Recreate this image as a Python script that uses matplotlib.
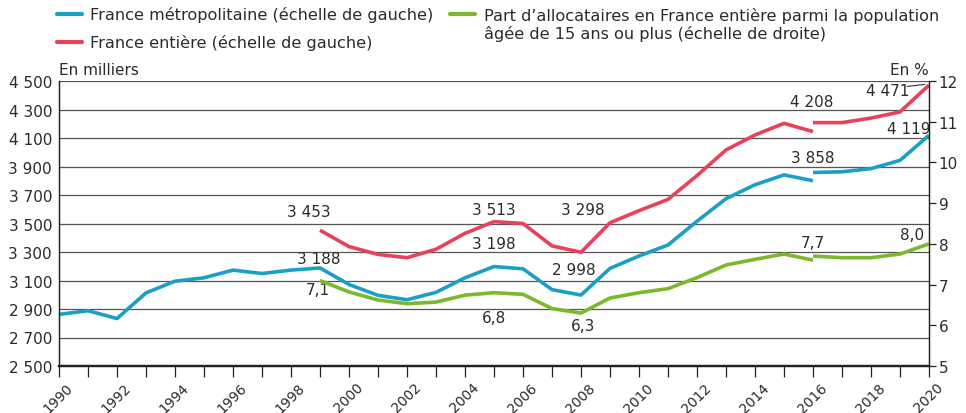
import matplotlib
matplotlib.use("Agg")
import matplotlib.pyplot as plt
from matplotlib.lines import Line2D
import matplotlib.transforms as mtransforms

plt.rcParams['font.family'] = ['DejaVu Sans']

# ---- data ----
years_metro_a = list(range(1990, 2017))
metro_a = [2862, 2888, 2833, 3013, 3095, 3119, 3173, 3149, 3173, 3188,
           3072, 2996, 2965, 3017, 3119, 3198, 3182, 3036, 2998, 3185,
           3272, 3349, 3516, 3674, 3772, 3841, 3800]
years_b = list(range(2016, 2021))
metro_b = [3858, 3863, 3885, 3943, 4119]

years_fe_a = list(range(1999, 2017))
entiere_a = [3453, 3338, 3283, 3260, 3319, 3431, 3513, 3500, 3343, 3298,
             3505, 3590, 3669, 3836, 4016, 4121, 4203, 4145]
entiere_b = [4208, 4208, 4240, 4283, 4471]

part_a = [7.1, 6.82, 6.62, 6.53, 6.57, 6.74, 6.8, 6.76, 6.41, 6.3,
          6.67, 6.80, 6.90, 7.17, 7.48, 7.62, 7.75, 7.60]
part_b = [7.7, 7.66, 7.66, 7.75, 8.0]

left_ticks = [2500, 2700, 2900, 3100, 3300, 3500, 3700, 3900, 4100, 4300, 4500]
right_ticks = [5, 6, 7, 8, 9, 10, 11, 12]
xtick_labels = list(range(1990, 2021, 2))

labels = ["France métropolitaine (échelle de gauche)",
          "France entière (échelle de gauche)",
          "Part d’allocataires en France entière parmi la population\nâgée de 15 ans ou plus (échelle de droite)"]

BLUE = "#1a9fc7"
RED = "#e8415a"
GREEN = "#79b92b"
TXT = "#2b2b2b"
FS = 11

fmt = lambda v: f"{v:,}".replace(",", " ")
fmtp = lambda v: f"{v:.1f}".replace(".", ",")

fig = plt.figure(figsize=(9.66, 4.14), dpi=100)
ax = fig.add_axes([59/966, 1-367/414, (929-59)/966, (367-82)/414])
ax2 = ax.twinx()

lw = 2.6
ax.plot(years_metro_a, metro_a, color=BLUE, lw=lw, solid_capstyle='butt')
ax.plot(years_b, metro_b, color=BLUE, lw=lw, solid_capstyle='butt')
ax.plot(years_fe_a, entiere_a, color=RED, lw=lw, solid_capstyle='butt')
ax.plot(years_b, entiere_b, color=RED, lw=lw, solid_capstyle='butt')
ax2.plot(years_fe_a, part_a, color=GREEN, lw=lw, solid_capstyle='butt')
ax2.plot(years_b, part_b, color=GREEN, lw=lw, solid_capstyle='butt')

ax.set_xlim(1990, 2020)
ax.set_ylim(2500, 4500)
ax2.set_ylim(5, 12)

ax.set_yticks(left_ticks)
ax.set_yticklabels([fmt(v) for v in left_ticks], fontsize=FS, color=TXT)
ax.tick_params(axis='y', length=0, pad=5)
for v in left_ticks:
    ax.axhline(v, color="#555555", lw=0.9, zorder=0)

ax2.set_yticks(right_ticks)
ax2.set_yticklabels([str(v) for v in right_ticks], fontsize=FS, color=TXT)
ax2.tick_params(axis='y', length=5, width=0.9, pad=2, color="#222")

ax.set_xticks(range(1990, 2021))
ax.set_xticklabels([str(y) if y in xtick_labels else "" for y in range(1990, 2021)],
                   rotation=45, ha='right', va='top', rotation_mode='anchor',
                   fontsize=10, color=TXT)
ax.tick_params(axis='x', length=8, width=0.9, color="#222", pad=2)
off = mtransforms.ScaledTranslation(7/100, 0, fig.dpi_scale_trans)
for lab in ax.get_xticklabels():
    lab.set_transform(lab.get_transform() + off)

for a in (ax, ax2):
    a.spines['top'].set_visible(False)
    a.spines['left'].set_color("#222")
    a.spines['right'].set_color("#222")
    a.spines['bottom'].set_color("#222")
    a.spines['bottom'].set_linewidth(1.6)
    a.spines['left'].set_linewidth(0.9)
    a.spines['right'].set_linewidth(0.9)

# annotations (left axis data coords)
ann = [
    (1998.62, 3581, fmt(entiere_a[0])),
    (1998.97, 3251, fmt(metro_a[9])),
    (1998.93, 3040, fmtp(part_a[0])),
    (2005.0, 3595, fmt(entiere_a[6])),
    (2005.0, 3363, fmt(metro_a[15])),
    (2005.0, 2837, fmtp(part_a[6])),
    (2008.05, 3595, fmt(entiere_a[9])),
    (2007.76, 3174, fmt(metro_a[18])),
    (2008.06, 2781, fmtp(part_a[9])),
    (2015.97, 4353, fmt(entiere_b[0])),
    (2016.0, 3960, fmt(metro_b[0])),
    (2016.0, 3370, fmtp(part_b[0])),
    (2018.57, 4430, fmt(entiere_b[-1])),
    (2019.3, 4170, fmt(metro_b[-1])),
    (2019.4, 3426, fmtp(part_b[-1])),
]
for x, y, t in ann:
    ax.text(x, y, t, ha='center', va='center', fontsize=FS, color=TXT)
ax.plot([2019.25, 2019.85], [4462, 4476], color="#333", lw=0.8)

ax.text(0, 1.015, "En milliers", transform=ax.transAxes, ha='left', va='bottom',
        fontsize=FS, color=TXT)
ax.text(1, 1.015, "En %", transform=ax.transAxes, ha='right', va='bottom',
        fontsize=FS, color=TXT)

# legend (manual)
LFS = 11.6
def leg_line(x0, x1, y, c):
    fig.add_artist(Line2D([x0/966, x1/966], [1-y/414, 1-y/414], color=c, lw=3,
                          solid_capstyle='round'))

leg_line(57, 82, 15, BLUE)
fig.text(90/966, 1-15/414, labels[0], ha='left', va='center', fontsize=LFS, color=TXT)
leg_line(57, 82, 43, RED)
fig.text(90/966, 1-43/414, labels[1], ha='left', va='center', fontsize=LFS, color=TXT)
leg_line(450, 475, 15, GREEN)
fig.text(484/966, 1-25/414, labels[2], ha='left', va='center', fontsize=LFS, color=TXT,
         linespacing=1.1)

fig.savefig("out.png", dpi=100)
